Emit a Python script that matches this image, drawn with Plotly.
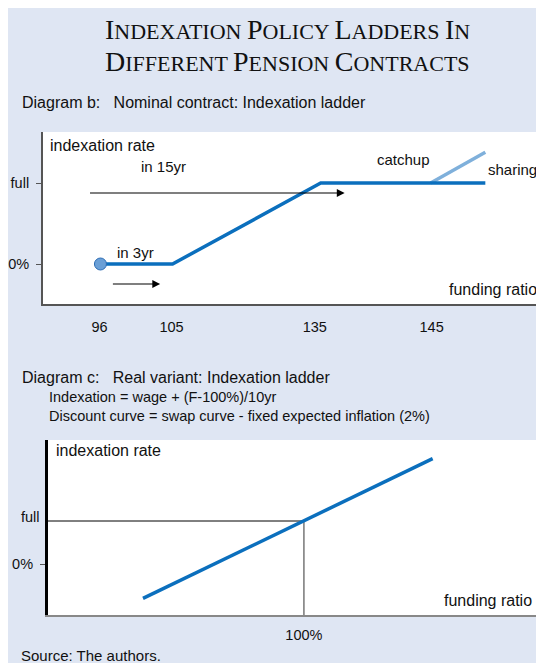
import plotly.graph_objects as go

## Data

# diagram b: nominal contract (schematic axis, positions in % of the axis width)
ratio_ticks = ["96", "105", "135", "145"]
ratio_tick_pos = [11.4, 25.9, 54.7, 78.2]
ladder_pos = [11.6, 26.1, 55.9, 89.0]
ladder_rate = [0, 0, 1, 1]
sharing_pos = [78.0, 89.0]
sharing_rate = [1.0, 1.38]

# diagram c: real variant
real_ratio = [75, 100, 120]
real_rate = [-0.8, 1.0, 2.45]
full_point = (100, 1)

# the page body adds an 8px margin, so the figure is a little smaller than the window
OFF = 8
W, H = 544 - OFF, 663 - OFF
BLUE = "#0b6fbd"
LIGHT = "#7fb0db"
BG = "#dfe6f3"
SANS = "Liberation Sans, Arial, sans-serif"
SERIF = "Liberation Serif, Times New Roman, serif"

xb_range = [0, 100]
yb_range = [-0.494, 1.63]
xc_range = [60.2, 137.1]
yc_range = [-1.186, 2.884]

SP = "&nbsp;&nbsp;&nbsp;"


def px_x(p):
    return (p - OFF) / W


def px_y(p):
    return 1 - (p - OFF) / H


def small_caps(text, big=28, small=22):
    out = []
    for word in text.split(" "):
        out.append("<span style='font-size:%dpx'>%s</span>%s" % (big, word[0], word[1:]))
    return " ".join(out)


fig = go.Figure()

# diagram b
fig.add_trace(go.Scatter(x=sharing_pos, y=sharing_rate, mode="lines",
                         line=dict(color=LIGHT, width=3.5), xaxis="x", yaxis="y"))
fig.add_trace(go.Scatter(x=ladder_pos, y=ladder_rate, mode="lines",
                         line=dict(color=BLUE, width=3.5), xaxis="x", yaxis="y"))
fig.add_trace(go.Scatter(x=ladder_pos[:1], y=ladder_rate[:1], mode="markers",
                         marker=dict(size=12, color="#6a9fd6", line=dict(color="#2d6db5", width=1)),
                         xaxis="x", yaxis="y"))

# diagram c
fig.add_trace(go.Scatter(x=[xc_range[0], full_point[0]], y=[full_point[1], full_point[1]], mode="lines",
                         line=dict(color="black", width=1), xaxis="x2", yaxis="y2"))
fig.add_trace(go.Scatter(x=[full_point[0], full_point[0]], y=[yc_range[0], full_point[1]], mode="lines",
                         line=dict(color="#777", width=1.5), xaxis="x2", yaxis="y2"))
fig.add_trace(go.Scatter(x=real_ratio, y=real_rate, mode="lines",
                         line=dict(color=BLUE, width=3.5), xaxis="x2", yaxis="y2"))

ann = []
# title and captions
ann.append(dict(text=small_caps("INDEXATION POLICY LADDERS IN"), x=px_x(285.5), y=px_y(30),
                font=dict(family=SERIF, size=22, color="#111")))
ann.append(dict(text=small_caps("DIFFERENT PENSION CONTRACTS"), x=px_x(286), y=px_y(61),
                font=dict(family=SERIF, size=22, color="#111")))
ann.append(dict(text="Diagram b:" + SP + "Nominal contract: Indexation ladder", x=px_x(18.3), y=px_y(102),
                xanchor="left", font=dict(size=16)))
ann.append(dict(text="Diagram c:" + SP + "Real variant: Indexation ladder", x=px_x(18.3), y=px_y(377),
                xanchor="left", font=dict(size=16)))
ann.append(dict(text="Indexation = wage + (F-100%)/10yr", x=px_x(45), y=px_y(397),
                xanchor="left", font=dict(size=14.5)))
ann.append(dict(text="Discount curve = swap curve - fixed expected inflation (2%)", x=px_x(45), y=px_y(415.5),
                xanchor="left", font=dict(size=14.5)))
ann.append(dict(text="Source: The authors.", x=px_x(17), y=px_y(655), xanchor="left", font=dict(size=15)))
for a in ann:
    a.update(xref="paper", yref="paper", showarrow=False, yanchor="middle")
    a.setdefault("xanchor", "center")

# labels inside the diagrams
inner = [
    dict(text="indexation rate", x=1.4, y=1.465, xanchor="left", xref="x", yref="y", font=dict(size=16)),
    dict(text="in 15yr", x=24.3, y=1.21, xref="x", yref="y"),
    dict(text="in 3yr", x=18.6, y=0.14, xref="x", yref="y"),
    dict(text="catchup", x=72.5, y=1.296, xref="x", yref="y"),
    dict(text="sharing", x=94.4, y=1.173, xref="x", yref="y"),
    dict(text="funding ratio", x=99.4, y=-0.321, xanchor="right", xref="x", yref="y", font=dict(size=16)),
    dict(text="indexation rate", x=61.5, y=2.63, xanchor="left", xref="x2", yref="y2", font=dict(size=16)),
    dict(text="funding ratio", x=135.5, y=-0.86, xanchor="right", xref="x2", yref="y2", font=dict(size=16)),
    dict(text="full", x=-0.015, y=1, yshift=4, xanchor="right", xref="x2 domain", yref="y2",
         font=dict(size=14.5)),
]
for a in inner:
    a.setdefault("xanchor", "center")
    a.setdefault("font", dict(size=15))
    a.update(showarrow=False, yanchor="middle")
ann += inner
for a in ann:
    a.update(borderpad=0, borderwidth=0)

# arrows in diagram b
for x0, x1, y in [(9.2, 60.7, 0.877), (13.8, 23.6, -0.247)]:
    ann.append(dict(x=x1, y=y, ax=x0, ay=y, xref="x", yref="y", axref="x", ayref="y", text="",
                    showarrow=True, arrowhead=2, arrowsize=1.3, arrowwidth=1.2, arrowcolor="black"))

shapes = [
    dict(type="rect", xref="paper", yref="paper", x0=0, x1=1, y0=0, y1=1,
         fillcolor=BG, line=dict(width=0), layer="below"),
    dict(type="rect", xref="x domain", yref="y domain", x0=0, x1=1, y0=0, y1=1,
         fillcolor="white", line=dict(width=0), layer="below"),
    dict(type="rect", xref="x2 domain", yref="y2 domain", x0=0, x1=1, y0=0, y1=1,
         fillcolor="white", line=dict(width=0), layer="below"),
]

axis_common = dict(showgrid=False, zeroline=False, showline=True, fixedrange=True,
                   tickfont=dict(size=14.5, color="#111"))

fig.update_layout(
    width=W, height=H,
    margin=dict(l=0, r=0, t=0, b=0),
    paper_bgcolor=BG,
    plot_bgcolor="rgba(0,0,0,0)",
    showlegend=False,
    font=dict(family=SANS, color="#111", size=15),
    xaxis=dict(axis_common, domain=[px_x(39), px_x(540)], range=xb_range, anchor="y",
               tickvals=ratio_tick_pos, ticktext=ratio_ticks, ticks="",
               linecolor="#555", linewidth=2, ticklabelstandoff=9),
    yaxis=dict(axis_common, domain=[px_y(304), px_y(132)], range=yb_range, anchor="x",
               tickvals=[0, 1], ticktext=["0%", "full"], ticks="outside", ticklen=5,
               tickcolor="#555", linecolor="#555", linewidth=1.5, ticklabelstandoff=4),
    xaxis2=dict(axis_common, domain=[px_x(44), px_x(542.7)], range=xc_range, anchor="y2",
                tickvals=[100], ticktext=["100%"], ticks="",
                linecolor="#888", linewidth=1.5, ticklabelstandoff=6),
    yaxis2=dict(axis_common, domain=[px_y(615), px_y(440)], range=yc_range, anchor="x2",
                tickvals=[0], ticktext=["0%"], ticks="outside", ticklen=5,
                tickcolor="#555", linecolor="black", linewidth=2.5, ticklabelstandoff=4),
    annotations=ann,
    shapes=shapes,
)

fig.write_html("out.html")
